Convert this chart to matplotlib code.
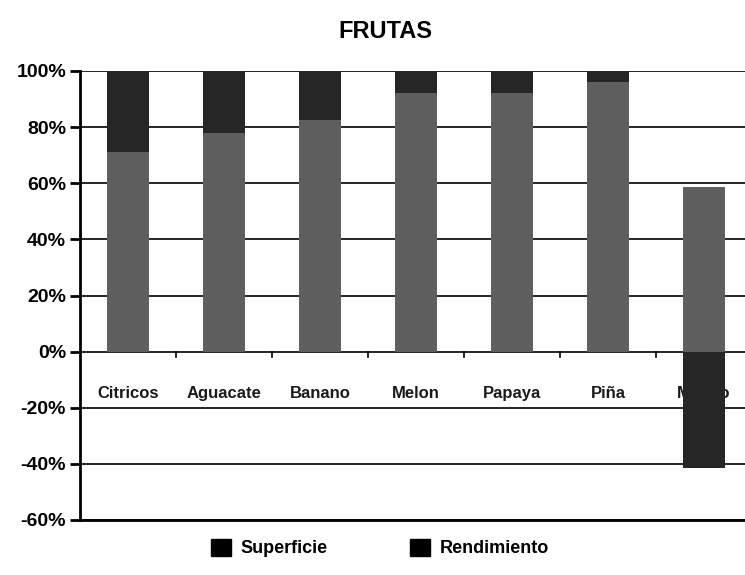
import numpy as np
import matplotlib.pyplot as plt
from matplotlib.patches import Patch
from matplotlib.ticker import FuncFormatter

plt.rcParams['font.family'] = ['Liberation Sans', 'DejaVu Sans']

# Data (percent of total)
categories = ['Citricos', 'Aguacate', 'Banano', 'Melon', 'Papaya', 'Piña', 'Mango']
superficie = [71, 78, 82.5, 92, 92, 96, 58.5]
rendimiento = [29, 22, 17.5, 8, 8, 4, -41.5]
yticks = [-60, -40, -20, 0, 20, 40, 60, 80, 100]

col_sup = '#5e5e5e'
col_ren = '#262626'

fig = plt.figure(figsize=(7.45, 5.75), dpi=100)
ax = fig.add_axes([80 / 745, 1 - 520 / 575, 672 / 745, 449 / 575])

x = np.arange(len(categories))
sup = np.array(superficie)
ren = np.array(rendimiento)
ren_bottom = np.where(ren >= 0, sup, 0)

ax.set_axisbelow(True)
ax.bar(x, sup, width=0.44, color=col_sup, zorder=5)
ax.bar(x, ren, width=0.44, bottom=ren_bottom, color=col_ren, zorder=5)

ax.set_xlim(-0.5, len(categories) - 0.5)
ax.set_ylim(-60, 100)
ax.set_yticks(yticks)
ax.yaxis.set_major_formatter(FuncFormatter(lambda v, p: f'{v:.0f}%'))
for v in yticks:
    ax.axhline(v, color='black', lw=1.2, zorder=1)

ax.set_xticks([])
for s in ['top', 'right']:
    ax.spines[s].set_visible(False)
ax.spines['left'].set_linewidth(2)
ax.spines['bottom'].set_linewidth(2)
ax.tick_params(axis='y', length=7, width=2, labelsize=14, pad=3)
for t in ax.get_yticklabels():
    t.set_fontweight('bold')

# small tick marks on the zero line between categories
for b in x[:-1] + 0.5:
    ax.plot([b, b], [0, -2], color='black', lw=1.2, zorder=2)

for xi, name in zip(x, categories):
    ax.text(xi, -15, name, ha='center', va='center', fontsize=12,
            fontweight='bold', color='#1a1a1a', zorder=3)

fig.text(385 / 745, 1 - 32 / 575, 'FRUTAS', ha='center', va='center',
         fontsize=17, fontweight='bold')

handles = [Patch(color='black'), Patch(color='black')]
fig.legend(handles, ['Superficie', 'Rendimiento'], loc='center',
           bbox_to_anchor=(380 / 745, 1 - 548 / 575), ncol=2, frameon=False,
           prop={'weight': 'bold', 'size': 13}, handlelength=1.1, handleheight=1.1,
           columnspacing=4.6, handletextpad=0.5)

fig.savefig('out.png', dpi=100)
